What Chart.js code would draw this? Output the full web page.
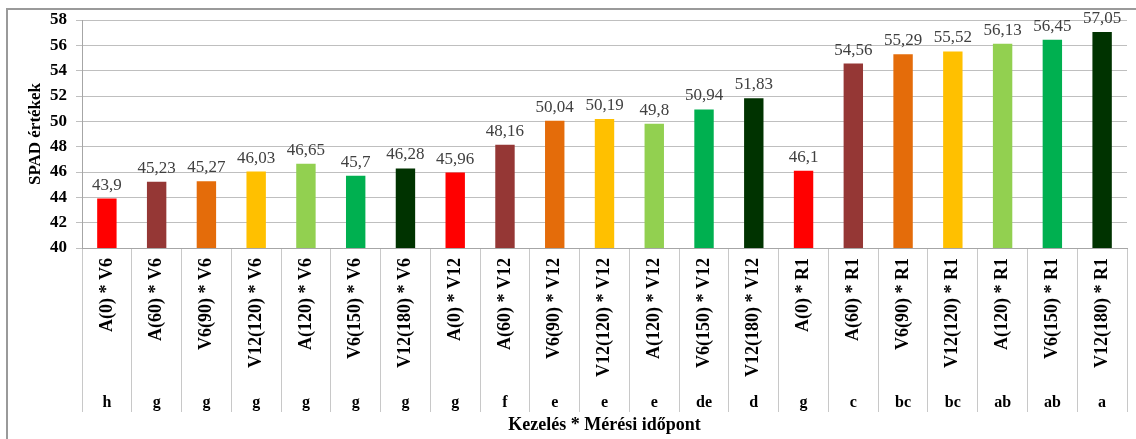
<!DOCTYPE html>
<html>
<head>
<meta charset="utf-8">
<script src="https://cdn.jsdelivr.net/npm/chart.js@4/dist/chart.umd.min.js"></script>
<style>
  body { margin: 0; background: #fff; }
  #wrap { position: relative; width: 1136px; height: 439px; overflow: hidden; }
  #frame { position: absolute; left: 6px; top: 8px; width: 1200px; height: 500px;
           border-left: 2px solid #9a9a9a; border-top: 2px solid #9a9a9a; }
  canvas { position: absolute; left: 0; top: 0; }
</style>
</head>
<body>
<div id="wrap">
  <div id="frame"></div>
  <canvas id="myChart" width="1136" height="439"></canvas>
</div>
<script>
const labels = [
    'A(0) * V6', 'A(60) * V6', 'V6(90) * V6', 'V12(120) * V6', 'A(120) * V6', 'V6(150) * V6', 'V12(180) * V6',
    'A(0) * V12', 'A(60) * V12', 'V6(90) * V12', 'V12(120) * V12', 'A(120) * V12', 'V6(150) * V12', 'V12(180) * V12',
    'A(0) * R1', 'A(60) * R1', 'V6(90) * R1', 'V12(120) * R1', 'A(120) * R1', 'V6(150) * R1', 'V12(180) * R1'
];
const spad = [43.9, 45.23, 45.27, 46.03, 46.65, 45.7, 46.28,
              45.96, 48.16, 50.04, 50.19, 49.8, 50.94, 51.83,
              46.1, 54.56, 55.29, 55.52, 56.13, 56.45, 57.05];
const letters = ['h', 'g', 'g', 'g', 'g', 'g', 'g',
                 'g', 'f', 'e', 'e', 'e', 'de', 'd',
                 'g', 'c', 'bc', 'bc', 'ab', 'ab', 'a'];
const yMin = 40, yMax = 58, yStep = 2;

// one colour per treatment, repeated for each measuring time
const palette = ['#ff0000', '#953735', '#e46c0a', '#ffc000', '#92d050', '#00b050', '#003300'];
const colors = labels.map((l, i) => palette[i % palette.length]);

const serif = "'Liberation Serif', 'Times New Roman', serif";

// value labels above the bars, decimal comma
const valueLabels = {
    id: 'valueLabels',
    afterDatasetsDraw(chart) {
        const ctx = chart.ctx;
        const meta = chart.getDatasetMeta(0);
        ctx.save();
        ctx.font = '17px ' + serif;
        ctx.fillStyle = '#404040';
        ctx.textAlign = 'center';
        ctx.textBaseline = 'alphabetic';
        meta.data.forEach((bar, i) => {
            ctx.fillText(String(spad[i]).replace('.', ','), bar.x, bar.y - 9);
        });
        ctx.restore();
    }
};

// rotated category names and the significance letters under the axis
const categoryText = {
    id: 'categoryText',
    afterDraw(chart) {
        const ctx = chart.ctx;
        const x = chart.scales.x;
        const top = chart.chartArea.bottom;
        ctx.save();
        ctx.fillStyle = '#000';
        labels.forEach((lab, i) => {
            const px = x.getPixelForValue(i);
            ctx.save();
            ctx.translate(px, top + 10);
            ctx.rotate(-Math.PI / 2);
            ctx.font = 'bold 18px ' + serif;
            ctx.textAlign = 'right';
            ctx.textBaseline = 'middle';
            ctx.fillText(lab, 0, 0);
            ctx.restore();
            ctx.font = 'bold 16px ' + serif;
            ctx.textAlign = 'center';
            ctx.textBaseline = 'middle';
            ctx.fillText(letters[i], px, top + 155);
        });
        ctx.restore();
    }
};

var ctx = document.getElementById('myChart').getContext('2d');
var myChart = new Chart(ctx, { //eslint-disable-line
    type: 'bar',
    data: {
        labels: labels,
        datasets: [
            {
                label: 'SPAD',
                data: spad,
                backgroundColor: colors,
                borderWidth: 0,
                barPercentage: 0.39,
                categoryPercentage: 1
            }
        ]
    },
    options: {
        responsive: false,
        animation: false,
        layout: { padding: { top: 20, right: 9, bottom: 0, left: 0 } },
        plugins: {
            legend: { display: false },
            tooltip: { enabled: false }
        },
        scales: {
            x: {
                afterFit: s => { s.height = 191; },
                ticks: { display: false },
                grid: {
                    offset: true,
                    drawOnChartArea: false,
                    tickLength: 164,
                    color: '#c8c8c8'
                },
                border: { color: '#a6a6a6' },
                title: {
                    display: true,
                    text: 'Kezelés * Mérési időpont',
                    color: '#000',
                    font: { family: serif, size: 18, weight: 'bold' },
                    padding: { top: 0, bottom: 3 }
                }
            },
            y: {
                min: yMin,
                max: yMax,
                afterFit: s => { s.width = 82; },
                ticks: {
                    stepSize: yStep,
                    padding: 9,
                    color: '#000',
                    font: { family: serif, size: 17, weight: 'bold' }
                },
                grid: { color: '#bfbfbf', tickLength: 6 },
                border: { color: '#a6a6a6' },
                title: {
                    display: true,
                    text: 'SPAD értékek',
                    color: '#000',
                    font: { family: serif, size: 17, weight: 'bold' },
                    padding: { top: 25, bottom: 0 }
                }
            }
        }
    },
    plugins: [valueLabels, categoryText]
});
</script>
</body>
</html>
